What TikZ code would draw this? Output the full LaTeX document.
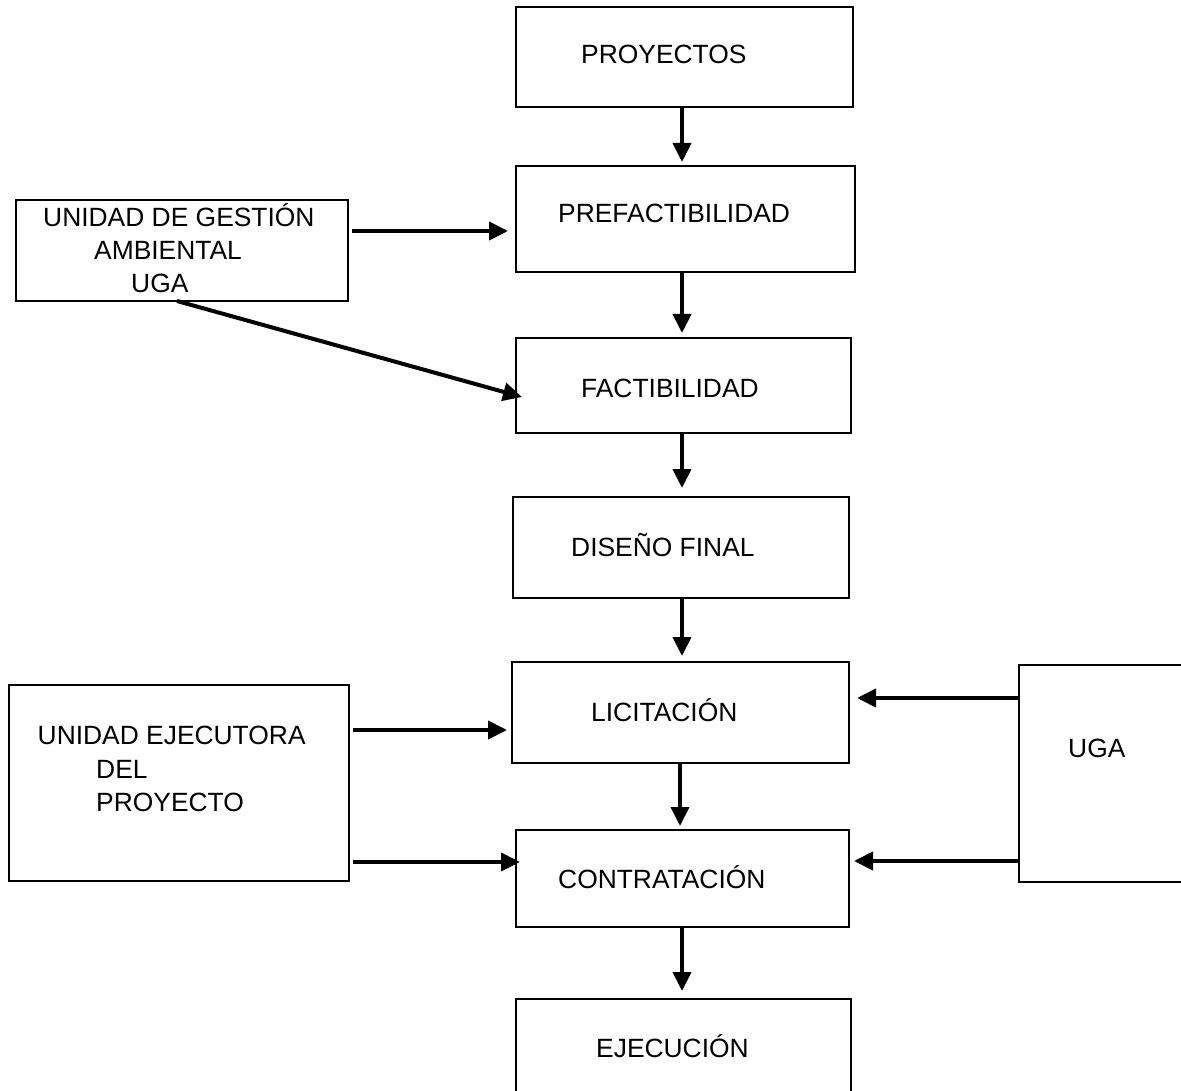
\documentclass[tikz,border=0pt]{standalone}
\usepackage{fontspec}
\setmainfont{Liberation Sans}
\usetikzlibrary{arrows.meta}
\begin{document}
\begin{tikzpicture}[x=1pt,y=-1pt,
  box/.style={draw,line width=1.3pt,inner sep=0pt,outer sep=0pt,rectangle},
  lbl/.style={anchor=base west,inner sep=0pt,font=\fontsize{26.4}{31}\selectfont},
  arr/.style={line width=4pt,-{Triangle[length=19pt 0 0,width=18pt 0 0]}}]
\useasboundingbox (0,0) rectangle (1181,1091);
% boxes
\node[box,minimum width=337pt,minimum height=100pt] (proy) at (684.5,57) {};
\node[box,minimum width=339pt,minimum height=106pt] (pref) at (685.5,219) {};
\node[box,minimum width=332pt,minimum height=101pt] (ugaL) at (182,250.5) {};
\node[box,minimum width=335pt,minimum height=95pt] (fact) at (683.5,385.5) {};
\node[box,minimum width=336pt,minimum height=101pt] (dis) at (681,547.5) {};
\node[box,minimum width=337pt,minimum height=101pt] (lic) at (680.5,712.5) {};
\node[box,minimum width=340pt,minimum height=196pt] (uep) at (179,783) {};
\node[box,minimum width=181pt,minimum height=217pt] (ugaR) at (1109.5,773.5) {};
\node[box,minimum width=333pt,minimum height=97pt] (con) at (682.5,878.5) {};
\node[box,minimum width=335pt,minimum height=101pt] (eje) at (683.5,1049.5) {};
% labels
\node[lbl] (tproy) at (581,64) {PROYECTOS};
\node[lbl] (tpref) at (558,223) {PREFACTIBILIDAD};
\node[lbl] (tugaL1) at (43,227) {UNIDAD DE GESTIÓN};
\node[lbl] (tugaL2) at (94,259.5) {AMBIENTAL};
\node[lbl] (tugaL3) at (131,292.5) {UGA};
\node[lbl] (tfact) at (581,397) {FACTIBILIDAD};
\node[lbl] (tdis) at (571,556) {DISEÑO FINAL};
\node[lbl] (tlic) at (591,721) {LICITACIÓN};
\node[lbl] (tuep1) at (37.5,744) {UNIDAD EJECUTORA};
\node[lbl] (tuep2) at (96,778) {DEL};
\node[lbl] (tuep3) at (96,811) {PROYECTO};
\node[lbl] (tugaR) at (1068,757) {UGA};
\node[lbl] (tcon) at (558,888) {CONTRATACIÓN};
\node[lbl] (teje) at (596,1057) {EJECUCIÓN};
% helper coordinates
\coordinate (xa) at (682,0);
\coordinate (xb) at (680,0);
\coordinate (y231) at (0,231);
\coordinate (y730) at (0,730);
\coordinate (y862) at (0,862);
\coordinate (y698) at (0,698);
\coordinate (y861) at (0,861);
% vertical arrows
\draw[arr,shorten >=4pt] (proy.south -| xa) -- (pref.north -| xa);
\draw[arr,shorten >=5pt] (pref.south -| xa) -- (fact.north -| xa);
\draw[arr,shorten >=9pt] (fact.south -| xa) -- (dis.north -| xa);
\draw[arr,shorten >=6pt] (dis.south -| xa) -- (lic.north -| xa);
\draw[arr,shorten >=4pt] (lic.south -| xb) -- (con.north -| xb);
\draw[arr,shorten >=8pt] (con.south -| xa) -- (eje.north -| xa);
% side arrows
\draw[arr,shorten <=4pt,shorten >=8pt] (ugaL.east |- y231) -- (pref.west |- y231);
\draw[arr] ([xshift=-5pt]ugaL.south) -- ([shift={(6,11.5)}]fact.west);
\draw[arr,shorten <=4pt,shorten >=5pt] (uep.east |- y730) -- (lic.west |- y730);
\draw[arr,shorten <=4pt,shorten >=-4pt] (uep.east |- y862) -- (con.west |- y862);
\draw[arr,shorten >=8pt] (ugaR.west |- y698) -- (lic.east |- y698);
\draw[arr,shorten >=5pt] (ugaR.west |- y861) -- (con.east |- y861);
\end{tikzpicture}
\end{document}
